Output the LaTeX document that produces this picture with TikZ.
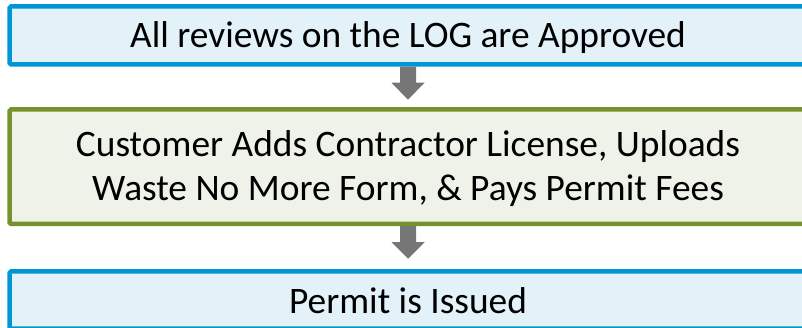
\documentclass[tikz,border=0pt]{standalone}
\usepackage{fontspec}
\setmainfont{Carlito}
\usetikzlibrary{calc}
\definecolor{bluebd}{RGB}{0,150,214}
\definecolor{bluefill}{RGB}{227,241,248}
\definecolor{greenbd}{RGB}{118,146,44}
\definecolor{greenfill}{RGB}{239,242,233}
\definecolor{arrowgray}{RGB}{118,118,118}
\tikzset{
  bluebox/.style={draw=bluebd, fill=bluefill, line width=4.5pt, rounded corners=1.5pt,
    minimum width=797pt, inner sep=0pt},
  greenbox/.style={draw=greenbd, fill=greenfill, line width=4.5pt, rounded corners=1.5pt,
    minimum width=797pt, inner sep=0pt},
  lbl/.style={anchor=base, inner sep=0pt, font=\fontsize{37.4}{44}\selectfont, text=black},
  blockarrow/.style={fill=arrowgray}
}
\begin{document}
\begin{tikzpicture}[x=1pt,y=-1pt]
\useasboundingbox (0,0) rectangle (802,328);
\clip (0,0) rectangle (802,328);
\node[bluebox, minimum height=58pt] (top) at (408,35.5) {};
\node[greenbox, minimum height=114.5pt] (mid) at (408,166.75) {};
\node[bluebox, minimum height=57pt] (bot) at (408,300) {};
\node[lbl] (t1) at (408,48) {All reviews on the LOG are Approved};
\node[lbl] (t2a) at (408,156.5) {Customer Adds Contractor License, Uploads};
\node[lbl] (t2b) at (408,200.5) {Waste No More Form, \& Pays Permit Fees};
\node[lbl] (t3) at (408,313) {Permit is Issued};
% block arrows
\fill[blockarrow] ($(top.south)+(-8,0)$) -- ($(top.south)+(8,0)$) -- ($(top.south)+(8,16)$)
  -- ($(top.south)+(16.5,16)$) -- ($(top.south)+(0,33)$) -- ($(top.south)+(-16.5,16)$)
  -- ($(top.south)+(-8,16)$) -- cycle;
\fill[blockarrow] ($(mid.south)+(-8,0)$) -- ($(mid.south)+(8,0)$) -- ($(mid.south)+(8,16)$)
  -- ($(mid.south)+(16.5,16)$) -- ($(mid.south)+(0,32.5)$) -- ($(mid.south)+(-16.5,16)$)
  -- ($(mid.south)+(-8,16)$) -- cycle;
\end{tikzpicture}
\end{document}
